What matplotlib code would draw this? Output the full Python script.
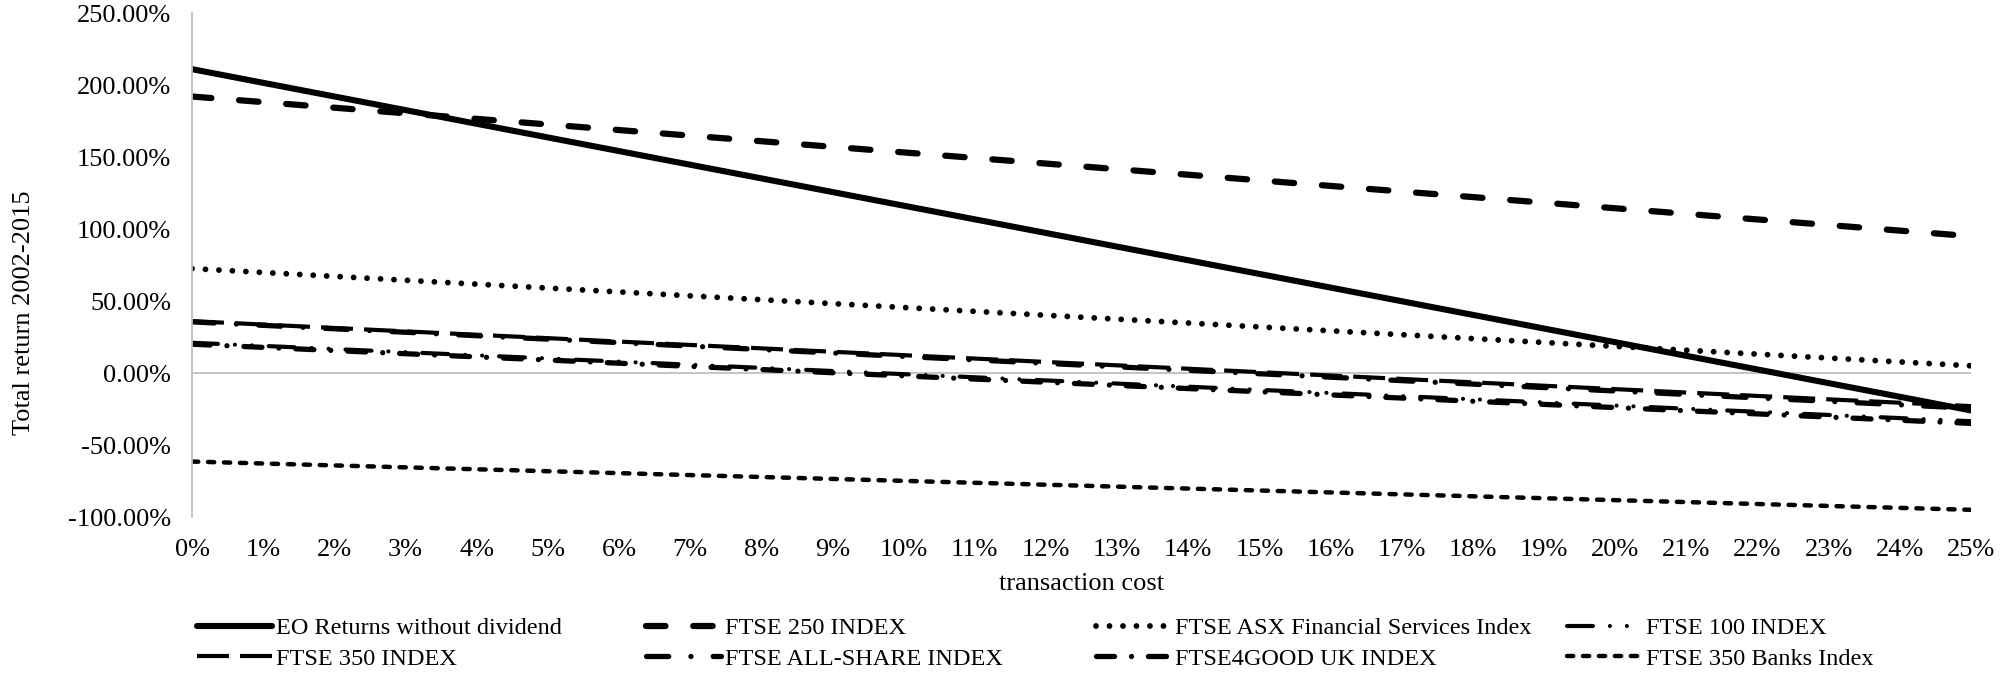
import matplotlib
matplotlib.use('Agg')
from matplotlib import pyplot as plt
from matplotlib.ticker import FuncFormatter

plt.rcParams['font.family'] = ['Liberation Serif', 'DejaVu Serif']
plt.rcParams['lines.scale_dashes'] = False

# transaction cost axis, 0% .. 25%
costLabels = [str(i) + '%' for i in range(26)]
costEnds = [0, 25]

# total return at 0% and 25% cost (straight lines in between)
eoReturns = [211.0, -26.0]
ftse250 = [192.0, 95.0]
ftseAsx = [72.5, 5.0]
ftse350 = [36.0, -23.0]
ftseAllShare = [35.5, -24.5]
ftse100 = [21.0, -33.5]
ftse4good = [20.0, -35.0]
ftse350Banks = [-61.5, -95.0]

names = ['EO Returns without dividend', 'FTSE 250 INDEX',
         'FTSE ASX Financial Services Index', 'FTSE 100 INDEX',
         'FTSE 350 INDEX', 'FTSE ALL-SHARE INDEX',
         'FTSE4GOOD UK INDEX', 'FTSE 350 Banks Index']
series = [eoReturns, ftse250, ftseAsx, ftse100,
          ftse350, ftseAllShare, ftse4good, ftse350Banks]

# line width (pt), dash pattern (pt), cap style
styles = [
  (4.4, None, 'round'),
  (4.5, (14, 20), 'round'),
  (4.2, (0.01, 9.7), 'round'),
  (3.0, (18.7, 12.2, 0.01, 12.2, 0.01, 12.2), 'round'),
  (3.0, (23, 8), 'butt'),
  (3.8, (16, 16, 0.01, 16), 'round'),
  (3.8, (13, 12.2, 0.01, 12.2), 'round'),
  (3.2, (4.5, 7), 'round'),
]

fig = plt.figure(figsize=(20.11, 6.75), dpi=100)
ax = fig.add_axes([192/2011, 1-517/675, (1971-192)/2011, (517-13)/675])

handles = []
for vals, name, (lw, dash, cap) in zip(series, names, styles):
  if dash is None:
    line, = ax.plot(costEnds, vals, color='black', lw=lw, solid_capstyle=cap,
                    label=name)
  else:
    line, = ax.plot(costEnds, vals, color='black', lw=lw, dashes=dash,
                    dash_capstyle=cap, label=name)
  handles.append(line)

ax.axhline(0, color='#BFBFBF', lw=1.3, zorder=0)

ax.set_xlim(0, 25)
ax.set_ylim(-100, 250)
ax.set_xticks(range(26))
ax.set_xticklabels(costLabels)
ax.set_yticks(range(-100, 251, 50))
ax.yaxis.set_major_formatter(FuncFormatter(lambda v, p: '%.2f%%' % v))
ax.tick_params(axis='both', length=0, labelsize=19)
ax.tick_params(axis='y', pad=15)
ax.tick_params(axis='x', pad=16)

for side in ['top', 'right', 'bottom']:
  ax.spines[side].set_visible(False)
ax.spines['left'].set_color('#BFBFBF')
ax.spines['left'].set_linewidth(1.3)

ax.set_xlabel('transaction cost', fontsize=19)
ax.xaxis.set_label_coords(0.5, -0.111)
ax.set_ylabel('Total return 2002-2015', fontsize=19)
ax.yaxis.set_label_coords(-0.088, 0.405)

# legend: 4 columns x 2 rows under the chart
colX = [197, 646, 1096, 1567]
for c in range(4):
  hs = [handles[c], handles[c+4]]
  fig.legend(hs, [h.get_label() for h in hs], loc='upper left',
             bbox_to_anchor=(colX[c]/2011, 1-617/675), frameon=False,
             fontsize=17.5, handlelength=3.1, handletextpad=0.17,
             borderpad=0, borderaxespad=0, labelspacing=0.36)

fig.savefig('out.png', dpi=100)
